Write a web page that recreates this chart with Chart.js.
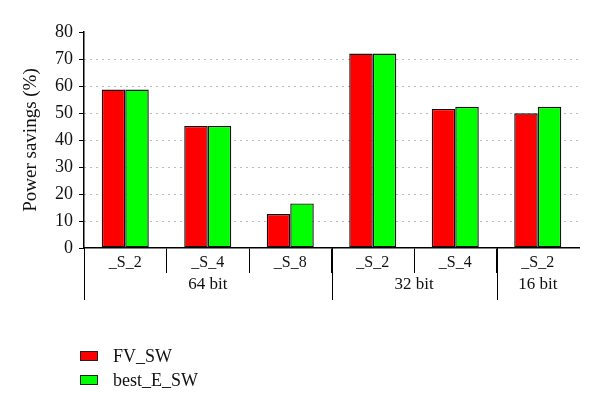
<!DOCTYPE html>
<html lang="en">
<head>
<meta charset="UTF-8">
<title>Power savings</title>
<script src="https://cdn.jsdelivr.net/npm/chart.js"></script>
<style>
    html, body { margin: 0; padding: 0; background: #fff; }
    .wrap { position: relative; width: 600px; height: 415px; }
    .legend {
        position: absolute; left: 80px; top: 344px;
        font-family: "Liberation Serif", serif; font-size: 18px; color: #111;
    }
    .legend div { display: flex; align-items: center; height: 24px; }
    .legend .box { width: 16px; height: 8px; border: 1px solid #222; margin-right: 15px; }
</style>
</head>
<body>
<div class="wrap">
    <canvas id="grafico" width="600" height="415"></canvas>
    <div class="legend">
        <div><span class="box" style="background:#ff0000"></span>FV_SW</div>
        <div><span class="box" style="background:#00ff00"></span>best_E_SW</div>
    </div>
</div>
<script>
    // categorias e grupos do eixo x
    const categories = ['_S_2', '_S_4', '_S_8', '_S_2', '_S_4', '_S_2'];
    const groups = ['64 bit', '32 bit', '16 bit'];
    const groupSizes = [3, 2, 1];

    // valores (%)
    const fvSW = [58.7, 45.2, 12.6, 72.0, 51.5, 49.9];
    const bestESW = [58.7, 45.2, 16.5, 72.0, 52.3, 52.3];

    const yMin = 0, yMax = 80, yStep = 10;

    Chart.defaults.font.family = '"Liberation Serif", serif';
    Chart.defaults.color = '#111';

    // rótulos de grupo e separadores longos
    const groupAxis = {
        id: 'groupAxis',
        afterDraw(chart) {
            const x = chart.scales.x;
            const ctx = chart.ctx;
            const step = x.width / categories.length;
            let start = 0;
            ctx.save();
            ctx.strokeStyle = '#000';
            ctx.lineWidth = 1;
            ctx.fillStyle = '#111';
            ctx.font = '17px "Liberation Serif"';
            ctx.textAlign = 'center';
            ctx.textBaseline = 'middle';
            groups.forEach((g, i) => {
                const x0 = x.left + start * step;
                const x1 = x0 + groupSizes[i] * step;
                ctx.beginPath();
                ctx.moveTo(Math.round(x0) + 0.5, x.top);
                ctx.lineTo(Math.round(x0) + 0.5, x.top + 52);
                ctx.stroke();
                ctx.fillText(g, (x0 + x1) / 2, x.top + 37);
                start += groupSizes[i];
            });
            ctx.restore();
        }
    };

    const ctx = document.getElementById('grafico').getContext('2d');
    new Chart(ctx, {
        type: 'bar',
        data: {
            labels: categories,
            datasets: [{
                label: 'FV_SW',
                data: fvSW,
                backgroundColor: '#ff0000',
                borderColor: '#111',
                borderWidth: 1.4,
                borderSkipped: false
            }, {
                label: 'best_E_SW',
                data: bestESW,
                backgroundColor: '#00ff00',
                borderColor: '#111',
                borderWidth: 1.4,
                borderSkipped: false
            }]
        },
        options: {
            responsive: false,
            animation: false,
            layout: { padding: { left: 0, right: 21, top: 32, bottom: 107 } },
            datasets: { bar: { categoryPercentage: 0.57, barPercentage: 1.0 } },
            plugins: {
                legend: { display: false },
                tooltip: { enabled: false }
            },
            scales: {
                x: {
                    afterFit: s => { s.height = 60; },
                    grid: {
                        offset: true,
                        drawOnChartArea: false,
                        tickLength: 25,
                        tickColor: c => c.index === undefined ? 'transparent' : '#000'
                    },
                    border: { color: '#000', width: 1.5 },
                    ticks: { padding: -20, font: { size: 16 }, color: '#111', maxRotation: 0 }
                },
                y: {
                    min: yMin,
                    max: yMax,
                    afterFit: s => { s.width = 84; },
                    ticks: { stepSize: yStep, padding: 6, font: { size: 18 }, color: '#111' },
                    grid: {
                        color: c => (c.tick && (c.tick.value === yMin || c.tick.value === yMax)) ? 'transparent' : '#777',
                        tickColor: '#000',
                        tickLength: 5
                    },
                    border: { color: '#000', width: 1.5, dash: [1, 5] },
                    title: {
                        display: true,
                        text: 'Power savings (%)',
                        font: { size: 19 },
                        color: '#111',
                        padding: { top: 20, bottom: 0 }
                    }
                }
            }
        },
        plugins: [groupAxis]
    });
</script>
</body>
</html>
